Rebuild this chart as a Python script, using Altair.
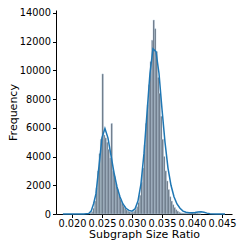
import altair as alt
import pandas as pd

# Histogram: bin width 0.00025, first bin starts at 0.02300
bin_start = 0.02300
bin_width = 0.00025
counts = [
    50, 150, 400, 900, 1800, 3000, 4200, 5200, 9750, 5500,
    5300, 5000, 4500, 3900, 6300, 3000, 2600, 2100, 1700, 1300,
    1000, 750, 550, 400, 280, 200, 150, 120, 130, 200,
    300, 500, 800, 1300, 2200, 3200, 4800, 6300, 7600, 9000,
    10600, 12100, 13500, 12900, 11300, 9500, 8400, 6800, 5200, 4000,
    3000, 2300, 1700, 1200, 900, 650, 450, 300, 200, 130,
    80, 60, 50, 50, 40, 40, 50, 80, 110, 120,
    100, 60, 30, 15,
]

# KDE curve
kde_x = [0.0185, 0.0200, 0.0220, 0.0228, 0.0232, 0.0236, 0.0240, 0.0245, 0.0250, 0.0255,
         0.0260, 0.0265, 0.0270, 0.0275, 0.0280, 0.0285, 0.0290, 0.0295, 0.0300, 0.0305,
         0.0310, 0.0315, 0.0320, 0.0325, 0.0330, 0.0335, 0.0340, 0.0345, 0.0350, 0.0355,
         0.0360, 0.0365, 0.0370, 0.0375, 0.0380, 0.0385, 0.0390, 0.0395, 0.0400, 0.0405,
         0.0410, 0.0415, 0.0420, 0.0425, 0.0430, 0.0440, 0.0455]
kde_y = [0, 0, 5, 40, 200, 700, 1400, 3300, 5300, 5950,
         5300, 4100, 2900, 1900, 1200, 700, 400, 250, 200, 350,
         900, 2100, 4200, 7000, 9800, 11500, 11300, 9800, 7300, 5000,
         3200, 2000, 1200, 700, 400, 200, 120, 80, 80, 100,
         140, 150, 120, 60, 20, 5, 0]

x_ticks = [0.020, 0.025, 0.030, 0.035, 0.040, 0.045]
y_ticks = [0, 2000, 4000, 6000, 8000, 10000, 12000, 14000]

hist = pd.DataFrame({
    "x0": [bin_start + i * bin_width for i in range(len(counts))],
    "x1": [bin_start + (i + 1) * bin_width for i in range(len(counts))],
    "count": counts,
    "base": [0] * len(counts),
})
kde = pd.DataFrame({"x": kde_x, "y": kde_y})

xscale = alt.Scale(domain=[0.01735, 0.04666], nice=False, zero=False)
yscale = alt.Scale(domain=[0, 14200], nice=False)

font = "DejaVu Sans"

xaxis = alt.Axis(values=x_ticks, format=".3f", title="Subgraph Size Ratio",
                 grid=False, labelOverlap=False)
yaxis = alt.Axis(values=y_ticks, format="d", title="Frequency", grid=False,
                 labelOverlap=False)

bars = alt.Chart(hist).mark_rect(
    color="#5f6b78", stroke="#b9cde0", strokeWidth=0.45, opacity=1
).encode(
    x=alt.X("x0:Q", scale=xscale, axis=xaxis),
    x2="x1:Q",
    y=alt.Y("count:Q", scale=yscale, axis=yaxis),
    y2="base:Q",
)

line = alt.Chart(kde).mark_line(color="#1f77b4", strokeWidth=1.5).encode(
    x=alt.X("x:Q", scale=xscale, axis=xaxis),
    y=alt.Y("y:Q", scale=yscale, axis=yaxis),
)

chart = alt.layer(bars, line).properties(
    width=176, height=204,
    autosize=alt.AutoSizeParams(type="none"),
    padding={"left": 48, "top": 2, "right": 9, "bottom": 27},
).configure_view(stroke=None).configure_axis(
    labelFont=font, titleFont=font, labelFontSize=9.8, titleFontSize=11,
    titleFontWeight="normal", labelColor="black", titleColor="black",
    domainColor="black", tickColor="black", tickSize=3.5, labelPadding=2,
    domainWidth=1, labelOverlap=False,
).configure_axisY(titlePadding=1).configure_axisX(titlePadding=0, labelPadding=1)

chart.save("out.html", embed_options={"renderer": "svg", "actions": False})
